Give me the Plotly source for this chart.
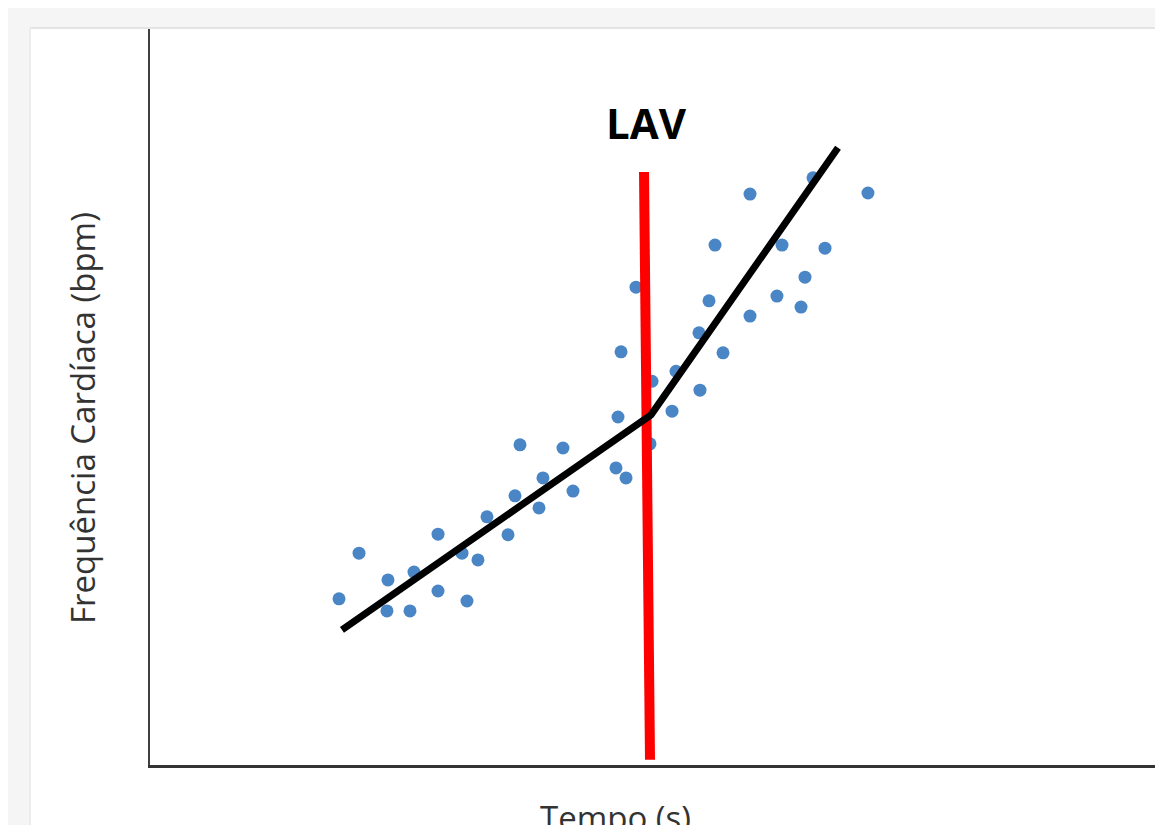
import plotly.graph_objects as go

# Scatter data: time (s) and heart rate (bpm)
tempo = [223.9, 247.6, 281.9, 280.7, 308.0, 312.7, 341.2, 341.2, 369.6, 375.5,
         388.5, 399.2, 424.1, 432.4, 438.3, 460.8, 465.5, 489.2, 501.1, 552.0,
         563.9, 554.4, 592.3, 618.4, 594.7, 623.1, 651.5, 650.3, 678.8, 558.0,
         662.2, 710.8, 742.7, 771.2, 775.9, 575.7, 669.3, 748.7, 799.6, 710.8,
         785.4, 850.5]
fc = [91.6, 100.3, 95.2, 89.3, 89.3, 96.7, 103.9, 93.1, 100.3, 91.2,
      99.0, 107.2, 103.8, 111.2, 120.9, 108.9, 114.6, 120.3, 112.1, 116.5,
      114.6, 126.2, 121.1, 127.3, 133.0, 134.9, 131.3, 142.2, 138.4, 138.6,
      148.3, 145.4, 149.2, 147.1, 152.8, 150.9, 158.9, 158.9, 158.3, 168.6,
      171.7, 168.8]

# Two-segment fit (black)
fit_t = [227.4, 593.5, 815.0]
fit_fc = [85.7, 126.6, 177.4]

# LAV marker line (red)
lav_t = [585.2, 592.3]
lav_fc = [172.8, 61.0]

x_range = [0, 1200]
y_range = [60, 200]

fig = go.Figure()
fig.add_trace(go.Scatter(x=tempo, y=fc, mode="markers",
                         marker=dict(size=13, color="#4A86C5"),
                         showlegend=False, cliponaxis=False))
fig.add_trace(go.Scatter(x=lav_t, y=lav_fc, mode="lines",
                         line=dict(color="#FF0000", width=10),
                         showlegend=False))
fig.add_trace(go.Scatter(x=fit_t, y=fit_fc, mode="lines",
                         line=dict(color="#000000", width=7),
                         showlegend=False))

# The page body adds an 8px margin, so the figure is drawn 8px smaller
OFF = 8
W, H = 1163 - OFF, 825 - OFF
L, R, T, B = 150 - OFF, 0, 29 - OFF, 825 - 765
pw, ph = W - L - R, H - T - B

def px(xp):
    return (xp - OFF - L) / pw

def py(yp):
    return (H - B - (yp - OFF)) / ph

shapes = [
    # white panel on grey page
    dict(type="rect", xref="paper", yref="paper", x0=px(30), x1=px(1170),
         y0=py(830), y1=py(28), fillcolor="white", line=dict(width=0), layer="below"),
    dict(type="line", xref="paper", yref="paper", x0=px(30), x1=px(1170),
         y0=py(28), y1=py(28), line=dict(color="#e4e4e4", width=2), layer="below"),
    dict(type="line", xref="paper", yref="paper", x0=px(30), x1=px(30),
         y0=py(28), y1=py(830), line=dict(color="#ececec", width=2), layer="below"),
]

annotations = [
    dict(text="<b>LAV</b>", xref="paper", yref="paper", x=px(646), y=py(123),
         showarrow=False, font=dict(family="Open Sans", size=42, color="#000000"),
         xanchor="center", yanchor="middle"),
    dict(text="Frequência Cardíaca (bpm)", xref="paper", yref="paper",
         x=px(83), y=py(418), textangle=-90, showarrow=False,
         font=dict(family="Open Sans", size=33, color="#333333"),
         xanchor="center", yanchor="middle"),
    dict(text="Tempo (s)", xref="paper", yref="paper", x=px(615), y=py(793),
         showarrow=False, font=dict(family="Open Sans", size=33, color="#333333"),
         xanchor="center", yanchor="top"),
]

fig.update_layout(
    width=W, height=H,
    margin=dict(l=L, r=R, t=T, b=B),
    paper_bgcolor="#f5f5f5",
    plot_bgcolor="rgba(0,0,0,0)",
    shapes=shapes,
    annotations=annotations,
    showlegend=False,
)
fig.update_xaxes(range=x_range, showgrid=False, zeroline=False, showticklabels=False,
                 ticks="", showline=True, linecolor="#333333", linewidth=3)
fig.update_yaxes(range=y_range, showgrid=False, zeroline=False, showticklabels=False,
                 ticks="", showline=True, linecolor="#404040", linewidth=2)

fig.write_html("out.html", config={"displayModeBar": False})
